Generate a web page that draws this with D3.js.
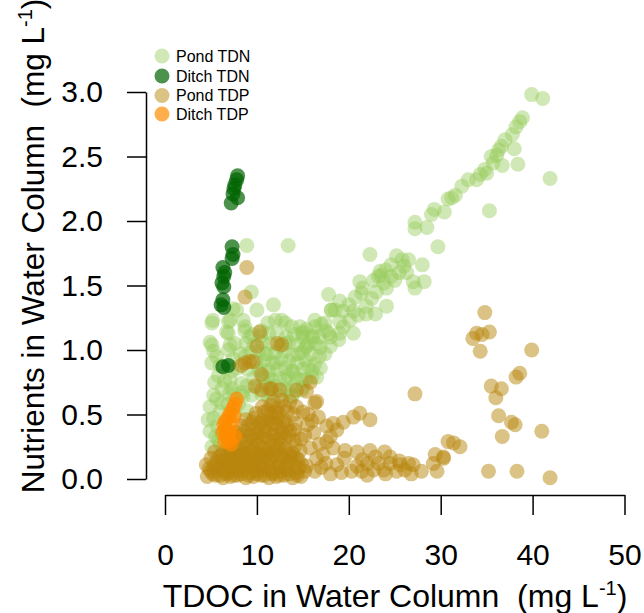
<!DOCTYPE html>
<html>
<head>
<meta charset="utf-8">
<script src="https://cdn.jsdelivr.net/npm/d3@7"></script>
<style>
  html, body { margin: 0; padding: 0; background: #fff; }
  svg { display: block; }
  text { font-family: "Liberation Sans", Arial, Helvetica, sans-serif; fill: #000; }
</style>
</head>
<body>
<svg id="chart" width="644" height="613"></svg>
<script>
// ---------------- DATA ----------------
const seriesNames = ["Pond TDN", "Ditch TDN", "Pond TDP", "Ditch TDP"];
const xTicks = [0, 10, 20, 30, 40, 50];
const yTicks = [0.0, 0.5, 1.0, 1.5, 2.0, 2.5, 3.0];

// [TDOC, nutrient] pairs
const pondTDN = [
  // upper arm
  [39.9,2.98],[41.1,2.95],[38.6,2.77],[38.9,2.80],[38.2,2.73],[37.8,2.67],[37.0,2.63],[36.6,2.58],[38.0,2.56],
  [36.3,2.55],[36.1,2.51],[35.5,2.50],[36.7,2.43],[35.7,2.45],[38.4,2.44],[41.9,2.33],[35.0,2.37],[34.8,2.40],
  [34.3,2.36],[33.9,2.32],[33.0,2.32],[35.3,2.08],[32.3,2.27],[31.6,2.20],[31.2,2.18],[30.8,2.17],[29.3,2.09],
  [29.0,2.05],[30.4,2.07],[28.5,1.95],[27.2,1.99],[27.2,1.94],[29.7,1.80],[22.3,1.74],[25.2,1.73],[25.8,1.70],
  [26.5,1.70],[26.0,1.65],[28.0,1.66],[24.6,1.66],[23.4,1.61],[24.0,1.62],[23.5,1.58],[23.2,1.57],[24.6,1.57],
  [25.5,1.60],[26.3,1.60],[25.0,1.54],[23.8,1.52],[28.2,1.53],[27.2,1.48],[27.0,1.53],[21.2,1.53],[22.7,1.54],
  [21.5,1.48],[24.1,1.48],[23.0,1.45],[21.4,1.44],[22.5,1.40],[17.8,1.43],[20.7,1.41],[21.9,1.34],[24.1,1.34],
  [19.0,1.38],[20.0,1.35],[18.1,1.31],[19.4,1.30],[20.5,1.30],[21.0,1.27],[21.9,1.28],[20.1,1.23],[22.9,1.28],
  [19.0,1.22],[16.3,1.23],[17.0,1.20],[18.0,1.10],[15.4,1.16],[17.5,1.15],[16.8,1.10],[15.4,1.03],[18.0,1.03],
  [19.4,1.18],[20.5,1.13],[14.7,1.18],[15.0,1.10],[16.1,1.10],[16.9,1.02],[19.0,1.13],[18.5,1.31],
  // upper-left outliers
  [8.9,1.81],[13.4,1.81],[9.4,1.45],[11.8,1.35],[7.8,1.31],[10.0,1.31],[7.4,1.32],[5.2,1.23],[6.9,1.22],
  [8.5,1.23],[12.7,1.23],[6.7,1.14],[8.7,1.15],[10.5,1.15],[4.9,1.06],[7.1,1.04],
  [18.1,1.31],[7.1,1.23],[8.7,1.18],[12.0,1.23],[13.1,1.21],[13.8,1.18],[16.3,1.18],[17.4,1.21],[11.2,1.21],
  [9.2,1.10],[14.9,1.13],[17.8,1.13],[6.9,1.13],[7.6,1.05],[10.9,0.97],[14.5,0.97],[17.4,0.97],[13.1,1.05],
  [15.6,1.05],[18.9,1.08],[6.9,1.00],[8.7,0.95],[12.0,0.90],[13.8,0.84],[15.6,0.87],[10.2,0.84],[11.2,0.79],
  [13.1,0.77],[14.9,0.77],[7.3,0.84],[8.3,0.74],[13.4,0.69],[14.9,0.69],[16.0,0.79],[13.8,0.64],[11.2,0.64],
  // dense cluster
  [9.5,1.12],[10.4,1.11],[11.3,1.13],[12.2,1.12],[13.2,1.10],[14.1,1.12],[15.0,1.14],[16.0,1.11],
  [8.8,1.05],[9.7,1.04],[10.6,1.06],[11.5,1.05],[12.5,1.03],[13.5,1.06],[14.4,1.04],[15.3,1.02],[16.4,1.05],
  [9.3,0.98],[10.2,0.99],[11.1,0.97],[12.0,0.98],[13.0,0.99],[13.9,0.96],[14.9,0.98],[15.9,0.97],[16.8,0.95],
  [9.9,0.91],[10.8,0.92],[11.7,0.90],[12.6,0.93],[13.5,0.91],[14.4,0.90],[15.3,0.92],[16.3,0.89],
  [9.0,0.85],[10.4,0.86],[11.3,0.84],[12.2,0.85],[13.1,0.86],[14.0,0.83],[15.0,0.85],[16.0,0.84],[16.9,0.86],
  [9.6,0.78],[10.7,0.79],[11.6,0.77],[12.5,0.78],[13.4,0.80],[14.3,0.78],[15.3,0.77],[16.5,0.79],
  [8.9,0.72],[10.0,0.71],[11.0,0.73],[12.0,0.72],[13.0,0.70],[14.0,0.72],[15.0,0.71],
  [7.5,0.66],[8.4,0.67],[9.4,0.65],[10.5,0.66],[11.5,0.67],[12.5,0.65],[13.9,0.65],
  // left edge
  [5.1,1.21],[5.1,1.04],[5.3,0.99],[5.1,0.90],[5.4,0.75],[5.3,0.65],[4.9,0.56],[4.7,0.46],[4.9,0.37],
  [5.8,0.30],[5.1,0.25],[8.2,0.97],[7.1,0.77],[8.5,0.64],[8.9,0.53],[6.2,0.59],
  [5.6,0.95],[6.0,0.88],[5.8,0.80],[6.5,0.76],[7.4,0.93],[7.9,0.86],[6.2,0.70],[7.0,0.66],[5.6,0.62],
  [6.0,0.52],[5.3,0.47],[5.7,0.41],[6.2,0.35],[5.5,0.33],[6.0,0.28],[7.3,0.70],[8.0,0.58],[7.6,0.50],[6.9,0.58]
];

const ditchTDN = [
  [7.9,2.35],[7.8,2.32],[7.6,2.28],[7.5,2.25],[7.4,2.21],[7.2,2.14],[7.9,2.18],
  [7.3,1.80],[7.4,1.74],[7.3,1.71],[6.3,1.64],[6.5,1.60],[6.4,1.57],[6.2,1.52],[6.4,1.49],
  [6.3,1.39],[6.1,1.35],[6.4,1.33],[6.3,0.87],[6.9,0.88]
];

const pondTDP = [
  // high points
  [8.9,1.64],[8.7,1.41],[10.3,1.14],[10.0,1.03],[12.2,1.05],[12.7,1.04],[9.2,0.91],[8.7,0.90],[8.3,0.88],
  [9.6,0.91],[10.5,0.81],[9.8,0.72],[10.5,0.69],[11.4,0.70],[11.6,0.70],[12.5,0.69],[15.8,0.75],[15.4,0.68],
  [13.6,0.60],[16.3,0.59],[14.3,0.69],
  // middle tail
  [16.5,0.60],[14.3,0.56],[15.6,0.50],[16.7,0.48],[21.2,0.51],[20.5,0.48],[22.3,0.46],[19.4,0.44],[18.3,0.43],
  [17.6,0.41],[18.7,0.38],[14.1,0.38],[15.2,0.34],[18.0,0.33],[17.6,0.29],[18.3,0.24],[19.6,0.22],[20.9,0.21],
  [22.3,0.22],[23.9,0.21],[17.2,0.19],[22.9,0.17],[29.4,0.19],[30.3,0.17],[29.2,0.12],[14.3,0.16],[15.4,0.10],
  [18.7,0.11],[20.9,0.10],[22.0,0.12],[23.2,0.12],[24.5,0.12],[25.6,0.11],[27.0,0.11],[27.9,0.06],[26.1,0.07],
  [25.2,0.06],[23.8,0.07],[22.7,0.07],[21.4,0.06],[20.3,0.06],[18.0,0.04],[16.3,0.06],[29.6,0.06],[27.2,0.66],
  [15.0,0.52],[16.0,0.45],[15.5,0.42],[16.2,0.36],[16.8,0.27],[15.8,0.24],[16.5,0.16],[17.5,0.12],[19.5,0.16],
  [21.5,0.15],[24.5,0.17],[25.5,0.14],[26.5,0.12],[24.0,0.04],[22.0,0.03],[26.8,0.04],[19.2,0.05],[17.0,0.09],
  // far right
  [34.8,1.29],[33.9,1.13],[33.5,1.09],[34.5,1.12],[35.3,1.14],[34.3,0.99],[39.9,1.00],[38.6,0.82],[38.2,0.79],
  [35.5,0.72],[36.6,0.70],[36.0,0.63],[36.3,0.49],[37.7,0.44],[38.1,0.42],[41.0,0.37],[36.7,0.33],[30.8,0.29],
  [31.4,0.28],[32.1,0.25],[30.3,0.16],[35.2,0.06],[38.3,0.06],[41.9,0.01],
  // dense blob
  [4.6,0.02],[5.5,0.03],[6.3,0.01],[7.1,0.02],[7.9,0.03],[8.8,0.01],[9.6,0.02],[10.4,0.03],[11.3,0.01],[12.1,0.02],[13.0,0.03],[13.9,0.01],[14.8,0.02],
  [5.0,0.06],[5.9,0.07],[6.8,0.05],[7.6,0.06],[8.4,0.07],[9.2,0.05],[10.0,0.06],[10.9,0.07],[11.7,0.05],[12.6,0.06],[13.4,0.07],[14.3,0.05],[15.2,0.06],
  [4.5,0.11],[5.3,0.10],[6.2,0.12],[7.0,0.11],[7.8,0.10],[8.7,0.12],[9.5,0.11],[10.3,0.10],[11.1,0.12],[12.4,0.11],[13.1,0.10],[14.0,0.12],[14.9,0.11],
  [5.0,0.16],[5.8,0.17],[6.6,0.15],[7.4,0.16],[8.2,0.17],[9.0,0.15],[9.9,0.16],[10.7,0.17],[11.5,0.15],[12.8,0.16],[13.7,0.17],[14.5,0.15],
  [5.4,0.21],[6.3,0.20],[7.1,0.22],[8.0,0.21],[8.7,0.20],[9.5,0.22],[10.4,0.21],[11.2,0.20],[12.1,0.22],[13.0,0.21],[13.9,0.20],[14.7,0.22],
  [6.8,0.26],[7.6,0.27],[8.4,0.25],[9.3,0.26],[10.1,0.27],[10.9,0.25],[11.8,0.26],[12.6,0.27],[14.2,0.26],
  [7.2,0.31],[8.0,0.32],[8.9,0.30],[9.7,0.31],[10.6,0.32],[11.4,0.30],[12.3,0.31],[13.1,0.32],[14.0,0.30],[14.8,0.31],
  [7.8,0.36],[8.6,0.37],[9.4,0.35],[10.2,0.36],[11.0,0.37],[11.9,0.35],[12.7,0.36],[13.6,0.37],
  [8.3,0.41],[9.1,0.42],[9.9,0.40],[10.8,0.41],[11.6,0.42],[12.5,0.40],[13.3,0.41],[14.2,0.43],
  [8.8,0.46],[9.7,0.47],[10.5,0.45],[11.3,0.46],[12.2,0.47],[13.0,0.45],
  [9.9,0.51],[10.8,0.52],[11.6,0.50],[12.4,0.51],[13.3,0.52],[14.0,0.50],
  [10.6,0.56],[11.5,0.57],[12.2,0.55],[13.0,0.56],[11.8,0.60],[12.7,0.61],
  // extra blob density
  [5.2,0.04],[6.0,0.03],[6.7,0.04],[7.5,0.03],[8.3,0.04],[9.1,0.03],[10.0,0.04],[10.8,0.03],[11.7,0.04],[12.5,0.03],[13.5,0.04],[14.4,0.03],
  [4.8,0.08],[5.6,0.09],[6.5,0.08],[7.3,0.09],[8.1,0.08],[9.0,0.09],[9.8,0.08],[10.6,0.09],[11.5,0.08],[12.3,0.09],[13.2,0.08],[14.6,0.09],
  [5.6,0.13],[6.4,0.14],[7.2,0.13],[8.0,0.14],[8.9,0.13],[9.7,0.14],[10.5,0.13],[11.4,0.14],[12.2,0.13],[13.4,0.14],
  [6.1,0.18],[6.9,0.19],[7.7,0.18],[8.5,0.19],[9.3,0.18],[10.1,0.19],[11.0,0.18],[11.9,0.19],[12.7,0.18],[13.5,0.19],
  [7.3,0.24],[8.1,0.23],[8.9,0.24],[9.7,0.23],[10.6,0.24],[11.4,0.23],[12.3,0.24],[13.2,0.23],
  [7.6,0.33],[8.5,0.34],[9.3,0.33],[10.1,0.34],[11.0,0.33],[11.8,0.34],[12.6,0.33],[13.5,0.34],
  [9.5,0.44],[10.3,0.43],[11.1,0.44],[12.0,0.43],[12.8,0.44],[11.2,0.53],[12.0,0.52]
];

const ditchTDP = [
  [7.8,0.62],[7.6,0.58],[7.4,0.55],[7.1,0.51],[6.9,0.48],[6.6,0.45],[6.4,0.42],[6.6,0.39],[6.3,0.36],
  [6.7,0.33],[7.0,0.30],[7.0,0.37],[7.3,0.43],[7.5,0.49],[7.2,0.27],[7.6,0.33],[6.5,0.29]
];

// ---------------- STYLE ----------------
const colors = {
  "Pond TDN":  { fill: "rgb(150,205,90)", op: 0.45 },
  "Ditch TDN": { fill: "rgb(0,100,0)",    op: 0.7 },
  "Pond TDP":  { fill: "rgb(184,134,11)", op: 0.5 },
  "Ditch TDP": { fill: "rgb(255,140,0)",  op: 0.7 }
};
const R = 7.5;

const svg = d3.select("#chart");
const x = d3.scaleLinear().domain([0, 50]).range([165, 624.5]);
const y = d3.scaleLinear().domain([0, 3]).range([479, 92]);

// points
const seriesData = [pondTDN, ditchTDN, pondTDP, ditchTDP];
seriesData.forEach((arr, i) => {
  const c = colors[seriesNames[i]];
  svg.append("g").selectAll("circle").data(arr).join("circle")
    .attr("cx", d => x(d[0]))
    .attr("cy", d => y(d[1]))
    .attr("r", R)
    .attr("fill", c.fill)
    .attr("fill-opacity", c.op);
});

// axes
const yAxis = svg.append("g")
  .attr("transform", "translate(146,0)")
  .call(d3.axisLeft(y).tickValues(yTicks).tickFormat(d3.format(".1f"))
    .tickSize(19).tickSizeOuter(0).tickPadding(24));
const xAxis = svg.append("g")
  .attr("transform", "translate(0,495)")
  .call(d3.axisBottom(x).tickValues(xTicks).tickFormat(d3.format("d"))
    .tickSize(20).tickSizeOuter(0).tickPadding(29));
[yAxis, xAxis].forEach(g => {
  g.select(".domain").attr("stroke", "#000").attr("stroke-width", 1.5);
  g.selectAll(".tick line").attr("stroke", "#000").attr("stroke-width", 1.5);
  g.selectAll(".tick text").attr("font-size", 30)
    .attr("font-family", "'Liberation Sans', Arial, sans-serif").attr("fill", "#000");
});

// axis titles
const xt = svg.append("text")
  .attr("x", 395).attr("y", 607)
  .attr("text-anchor", "middle")
  .attr("font-size", 32)
  .style("white-space", "pre");
xt.append("tspan").text("TDOC in Water Column  (mg L");
xt.append("tspan").attr("font-size", 20).attr("dy", -12).text("-1");
xt.append("tspan").attr("dy", 12).text(")");

const yt = svg.append("text")
  .attr("transform", "translate(44,246) rotate(-90)")
  .attr("text-anchor", "middle")
  .attr("font-size", 31.5)
  .style("white-space", "pre");
yt.append("tspan").text("Nutrients in Water Column  (mg L");
yt.append("tspan").attr("font-size", 20).attr("dy", -12).text("-1");
yt.append("tspan").attr("dy", 12).text(")");

// legend
const legendY = [56, 76, 95.5, 114];
const lg = svg.append("g");
seriesNames.forEach((name, i) => {
  const c = colors[name];
  lg.append("circle").attr("cx", 162).attr("cy", legendY[i]).attr("r", R)
    .attr("fill", c.fill).attr("fill-opacity", c.op);
  lg.append("text").attr("x", 176).attr("y", legendY[i])
    .attr("dominant-baseline", "central")
    .attr("font-size", 16).text(name);
});
</script>
</body>
</html>
